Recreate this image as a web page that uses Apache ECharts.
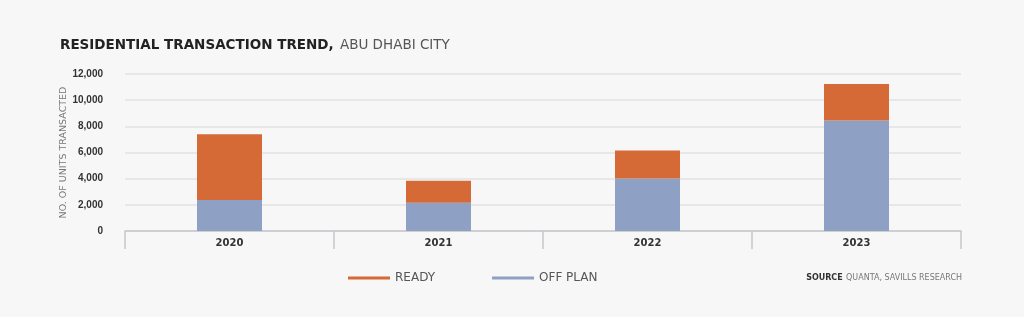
<!DOCTYPE html>
<html>
<head>
<meta charset="utf-8">
<script src="https://cdn.jsdelivr.net/npm/echarts@6/dist/echarts.min.js"></script>
<style>
  html, body { margin: 0; padding: 0; background: #f7f7f7; }
  #chart { width: 1024px; height: 317px; }
</style>
</head>
<body>
<div id="chart"></div>
<script>
// values
var years = ['2020', '2021', '2022', '2023']
var offPlan = [2370, 2160, 4020, 8450]
var ready = [5030, 1680, 2140, 2790]
var yTicks = { min: 0, max: 12000, interval: 2000 }

var chart = echarts.init(document.getElementById('chart'))
chart.setOption({
  backgroundColor: '#f7f7f7',
  animation: false,
  textStyle: { fontFamily: 'DejaVu Sans' },
  title: {
    left: 55,
    top: 31,
    text: '{b|RESIDENTIAL TRANSACTION TREND,} {l|ABU DHABI CITY}',
    textStyle: {
      rich: {
        b: { fontSize: 13.5, fontWeight: 'bold', color: '#222', fontFamily: 'DejaVu Sans' },
        l: { fontSize: 13.5, fontWeight: 'normal', color: '#555', fontFamily: 'DejaVu Sans' }
      }
    }
  },
  legend: {
    data: ['READY', 'OFF PLAN'],
    left: 343,
    top: 267,
    icon: 'rect',
    itemWidth: 42,
    itemHeight: 3,
    itemGap: 57,
    textStyle: { fontSize: 12, color: '#555' }
  },
  graphic: [{
    type: 'text',
    right: 62,
    top: 272,
    style: {
      text: '{s|SOURCE} {r|QUANTA, SAVILLS RESEARCH}',
      rich: {
        s: { fontSize: 8, fontWeight: 'bold', fill: '#333', fontFamily: 'DejaVu Sans' },
        r: { fontSize: 8, fill: '#777', fontFamily: 'DejaVu Sans' }
      }
    }
  }],
  grid: { left: 125, right: 63, top: 74, bottom: 86 },
  xAxis: {
    type: 'category',
    data: years,
    axisLine: { lineStyle: { color: '#c5c8cc', width: 1.5 } },
    axisTick: { show: true, length: 18, lineStyle: { color: '#c5c8cc', width: 1.5 } },
    axisLabel: { margin: 7, fontSize: 10, fontWeight: 'bold', color: '#333' }
  },
  yAxis: {
    type: 'value',
    min: yTicks.min,
    max: yTicks.max,
    interval: yTicks.interval,
    name: 'NO. OF UNITS TRANSACTED',
    nameLocation: 'middle',
    nameGap: 56,
    nameMoveOverlap: false,
    nameTextStyle: { fontSize: 9.5, color: '#777' },
    axisLine: { show: false },
    axisTick: { show: false },
    axisLabel: {
      margin: 22,
      fontSize: 10,
      fontWeight: 'bold',
      fontFamily: 'Liberation Sans',
      color: '#333',
      formatter: function(v) { return v.toLocaleString('en-US') }
    },
    splitLine: { lineStyle: { color: '#e2e2e2', width: 1.5 } }
  },
  series: [
    {
      name: 'OFF PLAN',
      type: 'bar',
      stack: 'units',
      barWidth: 65,
      itemStyle: { color: '#8ea1c5' },
      data: offPlan
    },
    {
      name: 'READY',
      type: 'bar',
      stack: 'units',
      barWidth: 65,
      itemStyle: { color: '#d56a36' },
      data: ready
    }
  ]
})
</script>
</body>
</html>
